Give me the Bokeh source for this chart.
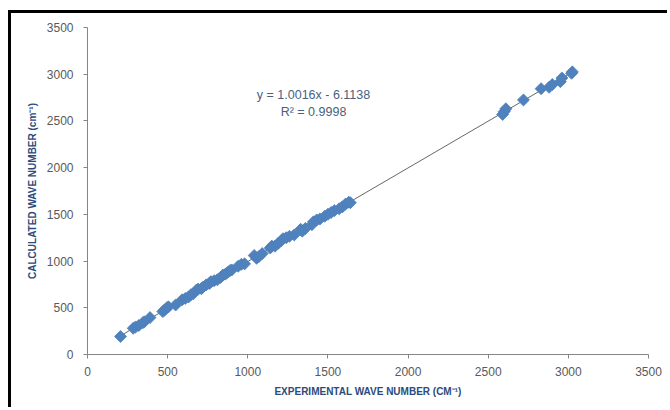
from bokeh.plotting import figure
from bokeh.models import Range1d, FixedTicker
from bokeh.core.properties import value
from bokeh.embed import file_html
from bokeh.resources import INLINE

# Experimental vs calculated wave numbers (cm-1)
experimental = [206, 285, 300, 320, 345, 355, 390, 470, 480, 495, 505, 550, 590, 610, 630,
                645, 660, 680, 690, 710, 720, 740, 760, 770, 790, 810, 830, 845, 860, 875,
                890, 900, 940, 960, 980, 1040, 1055, 1070, 1090, 1140, 1150, 1170, 1190,
                1210, 1220, 1240, 1260, 1290, 1330, 1340, 1360, 1400, 1410, 1430, 1450,
                1480, 1500, 1520, 1540, 1570, 1590, 1610, 1630, 1640, 2590, 2600, 2610,
                2720, 2830, 2880, 2900, 2950, 2960, 3020, 3025]
calculated = [193, 280, 295, 310, 340, 350, 395, 460, 475, 500, 510, 530, 585, 600, 615,
              640, 650, 690, 700, 705, 720, 745, 760, 780, 790, 800, 825, 850, 860, 880,
              900, 905, 945, 965, 970, 1060, 1030, 1050, 1080, 1140, 1160, 1160, 1190,
              1220, 1240, 1250, 1265, 1280, 1340, 1320, 1350, 1390, 1420, 1440, 1450,
              1480, 1500, 1520, 1540, 1560, 1580, 1610, 1630, 1625, 2570, 2600, 2630,
              2725, 2845, 2860, 2890, 2920, 2960, 3010, 3025]

slope = 1.0016
intercept = -6.1138
equation_lines = ["y = 1.0016x - 6.1138", "R\u00b2 = 0.9998"]
ticks = [0, 500, 1000, 1500, 2000, 2500, 3000, 3500]

p = figure(width=659, height=397, output_backend="svg", toolbar_location=None,
           x_range=Range1d(0, 3500), y_range=Range1d(0, 3500),
           min_border_left=76, min_border_right=22, min_border_top=14, min_border_bottom=56)
p.styles = {"margin-left": "8px", "margin-top": "10px",
            "border-top": "3px solid black", "border-left": "3px solid black"}
p.background_fill_color = "white"
p.border_fill_color = "white"
p.outline_line_color = None
p.xgrid.visible = False
p.ygrid.visible = False

for ax in (p.xaxis[0], p.yaxis[0]):
    ax.ticker = FixedTicker(ticks=ticks)
    ax.axis_line_color = "#868686"
    ax.major_tick_line_color = "#868686"
    ax.major_tick_out = 4
    ax.major_tick_in = 0
    ax.minor_tick_line_color = None
    ax.major_label_text_font = "Liberation Sans"
    ax.major_label_text_font_size = "12px"
    ax.major_label_text_color = "#595959"
    ax.axis_label_text_font = "Liberation Sans"
    ax.axis_label_text_font_size = "10px"
    ax.axis_label_text_font_style = "bold"
    ax.axis_label_text_color = "#2C4A7C"

p.xaxis.axis_label = "EXPERIMENTAL WAVE NUMBER (CM\u207b\u00b9)"
p.yaxis.axis_label = "CALCULATED WAVE NUMBER (cm\u207b\u00b9)"
p.xaxis.major_label_standoff = 8
p.yaxis.major_label_standoff = 10
p.xaxis.axis_label_standoff = 7
p.yaxis.axis_label_standoff = 6

# trend line
x0, x1 = min(experimental), max(experimental)
p.line([x0, x1], [slope * x0 + intercept, slope * x1 + intercept],
       line_color="#404040", line_width=0.8)

p.scatter(experimental, calculated, marker="square", size=8.5, angle=0.785398,
          fill_color="#4F81BD", line_color="#4F81BD", line_width=0.8)

p.text(x=[1410, 1410], y=[2773, 2591], text=equation_lines,
       text_align="center", text_baseline="middle",
       text_font=value("Liberation Sans"), text_font_size="12.5px", text_color="#4A5F80")

open("out.html", "w").write(file_html(p, INLINE))
